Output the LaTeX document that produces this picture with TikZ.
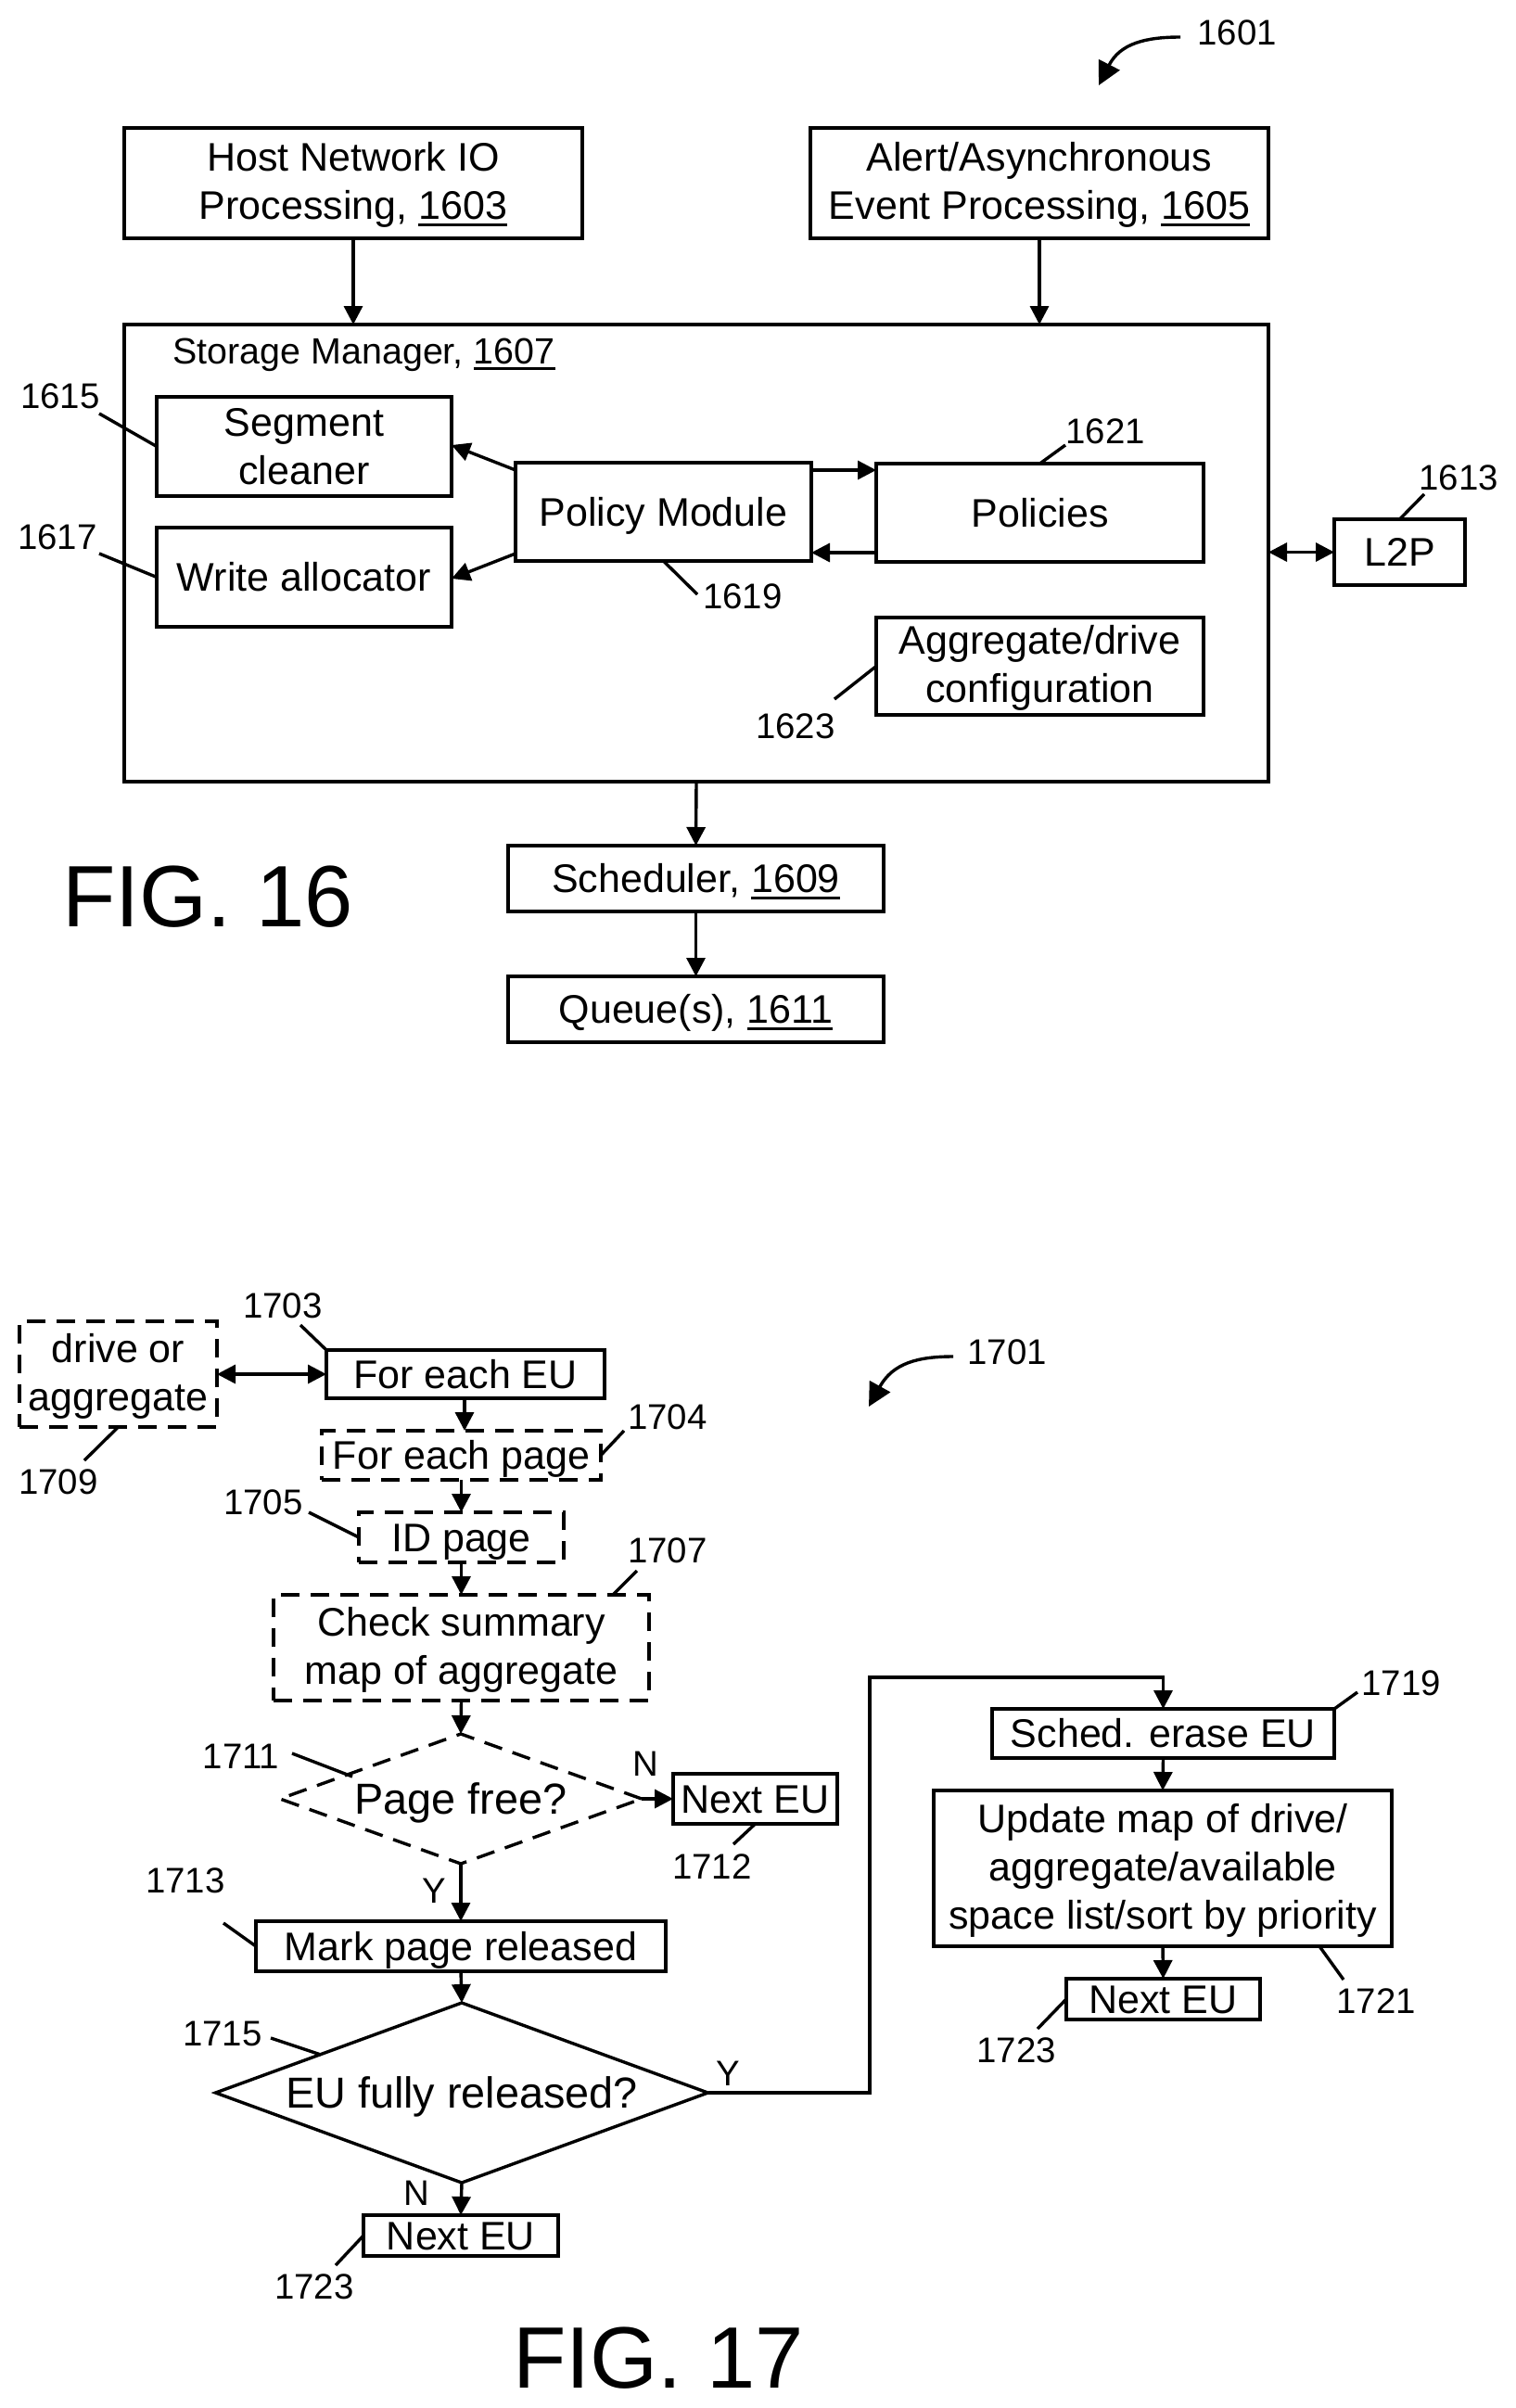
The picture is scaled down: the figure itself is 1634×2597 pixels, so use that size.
\documentclass[tikz,border=0pt]{standalone}
\usepackage{fontspec}
\setmainfont{Liberation Sans}
\usetikzlibrary{arrows.meta,shapes.geometric}
\newcommand\ulnum[1]{\setbox0\hbox{#1}\rlap{\rule[-0.17em]{\wd0}{1.6pt}}#1}
\newcommand\bx[6]{% name, style, x1, y1, x2, y2; the text follows
  \pgfmathsetmacro\cx{(#3+#5)/2}\pgfmathsetmacro\cy{(#4+#6)/2}%
  \pgfmathsetmacro\ww{(#5-#3)*0.5}\pgfmathsetmacro\hh{(#6-#4)*0.5}%
  \node[#2,minimum width=\ww pt,minimum height=\hh pt] (#1) at (\cx,\cy)}
\tikzset{
  x=0.5pt,y=-0.5pt,
  every path/.style={line width=1.7pt},
  base/.style={draw,inner sep=0pt,outer sep=0pt,align=center,font=\fontsize{21.5}{26}\selectfont},
  one/.style={base,text height=15.4pt,text depth=0pt},
  multi/.style={base,text depth=2.5pt},
  dbox/.style={one,dashed},
  dmulti/.style={multi,dashed},
  dashed/.style={dash pattern=on 10pt off 6pt},
  num/.style={inner sep=0pt,font=\fontsize{19.2}{23}\selectfont,text height=13.8pt,text depth=0pt},
  figlabel/.style={inner sep=0pt,font=\fontsize{47}{50}\selectfont,text height=33.7pt,text depth=0pt},
  plain/.style={inner sep=0pt,font=\fontsize{19.7}{23}\selectfont,text height=14.1pt,text depth=0pt},
  decide/.style={base,diamond,shape aspect=2.73,font=\fontsize{23.4}{26}\selectfont,text height=16.8pt,text depth=0pt},
  arr/.style={-{Triangle[length=10pt,width=10pt]}},
  darr/.style={{Triangle[length=10pt,width=10pt]}-{Triangle[length=10pt,width=10pt]}},
  curvearr/.style={-{Triangle[length=12.5pt,width=12.5pt]}},
  leader/.style={line width=1.7pt},
}
\begin{document}
\begin{tikzpicture}
\useasboundingbox (0,0) rectangle (1634,2597);
% FIG. 16
\bx{host}{multi}{134}{138}{628}{257}{Host Network IO\\Processing, \ulnum{1603}};
\bx{alert}{multi}{874}{138}{1368}{257}{Alert/Asynchronous\\Event Processing, \ulnum{1605}};
\bx{sm}{base}{134}{350}{1368}{843}{};
\node[plain,anchor=west] (smt) at (185,378) {Storage Manager, \ulnum{1607}};
\bx{seg}{base}{169}{428}{487}{535}{Segment\\cleaner};
\bx{wa}{one}{169}{569}{487}{676}{Write allocator};
\bx{pm}{one}{556}{499}{875}{605}{Policy Module};
\bx{pol}{one}{945}{500}{1298}{606}{Policies};
\bx{agg}{multi}{945}{666}{1298}{771}{Aggregate/drive\\configuration};
\bx{ltp}{one}{1439}{560}{1580}{631}{L2P};
\bx{sch}{one}{548}{912}{953}{983}{Scheduler, \ulnum{1609}};
\bx{que}{one}{548}{1053}{953}{1124}{Queue(s), \ulnum{1611}};
\node[figlabel] (f16) at (224,966) {FIG. 16};
\node[num] (n1601) at (1334,35) {1601};
\node[num] (n1615) at (65,427) {1615};
\node[num] (n1617) at (62,579) {1617};
\node[num] (n1619) at (801,643) {1619};
\node[num] (n1621) at (1192,465) {1621};
\node[num] (n1623) at (858,783) {1623};
\node[num] (n1613) at (1573,515) {1613};
\draw[arr] (host) -- (host |- sm.north);
\draw[arr] (alert) -- (alert |- sm.north);
\coordinate (smb) at (751,843);
\draw[arr] (smb) -- (sch.north);
\draw[arr] (sch) -- (que);
\coordinate (pa) at (556,507); \coordinate (pb) at (487,480);
\coordinate (pc) at (556,597); \coordinate (pd) at (487,624);
\draw[arr] (pa) -- (pb);
\draw[arr] (pc) -- (pd);
\coordinate (pe) at (875,507); \coordinate (pf) at (945,507);
\coordinate (pg) at (945,596); \coordinate (ph) at (875,596);
\draw[arr] (pe) -- (pf);
\draw[arr] (pg) -- (ph);
\draw[darr] (sm.east |- ltp.west) -- (ltp.west);
\coordinate (c1601a) at (1273,40); \coordinate (c1601b) at (1185,92);
\draw[curvearr] (c1601a) .. controls (1235,40) and (1208,47) .. (c1601b);
\coordinate (l1615) at (107,446); \draw[leader] (l1615) -- (seg.west);
\coordinate (l1617) at (107,597); \draw[leader] (l1617) -- (wa.west);
\coordinate (l1619) at (752,641); \draw[leader] (pm.south) -- (l1619);
\coordinate (l1621) at (1149,480); \draw[leader] (pol.north) -- (l1621);
\coordinate (l1623) at (900,754); \draw[leader] (agg.west) -- (l1623);
\coordinate (l1613) at (1536,533); \draw[leader] (ltp.north) -- (l1613);
% FIG. 17
\bx{drv}{dmulti}{21}{1425}{234}{1539}{drive or\\aggregate};
\bx{fe}{one}{352}{1456}{652}{1508}{For each EU};
\bx{fp}{dbox}{347}{1543}{648}{1596}{For each page};
\bx{idp}{dbox}{387}{1631}{608}{1685}{ID page};
\bx{cs}{dmulti}{295}{1720}{700}{1834}{Check summary\\map of aggregate};
\node[decide,dashed,minimum width=390pt*0.5,minimum height=140pt*0.5] (pfree) at (497,1940) {Page free?};
\bx{ne1}{one}{726}{1913}{903}{1967}{Next EU};
\bx{mp}{one}{276}{2072}{718}{2126}{Mark page released};
\node[decide,minimum width=531pt*0.5,minimum height=194pt*0.5] (eu) at (498,2257) {EU fully released?};
\bx{ne2}{one}{392}{2389}{602}{2433}{Next EU};
\bx{sched}{one}{1070}{1843}{1439}{1896}{Sched. erase EU};
\bx{upd}{multi}{1007}{1931}{1501}{2099}{Update map of drive/\\aggregate/available\\space list/sort by priority};
\bx{ne3}{one}{1150}{2134}{1359}{2178}{Next EU};
\node[figlabel] (f17) at (710,2542) {FIG. 17};
\node[num] (n1701) at (1086,1458) {1701};
\node[num] (n1703) at (305,1408) {1703};
\node[num] (n1704) at (720,1528) {1704};
\node[num] (n1705) at (284,1620) {1705};
\node[num] (n1707) at (720,1672) {1707};
\node[num] (n1709) at (63,1598) {1709};
\node[num] (n1711) at (260,1894) {1711};
\node[num] (n1712) at (768,2013) {1712};
\node[num] (n1713) at (200,2028) {1713};
\node[num] (n1715) at (240,2193) {1715};
\node[num] (n1719) at (1511,1815) {1719};
\node[num] (n1721) at (1484,2158) {1721};
\node[num] (n1723a) at (339,2466) {1723};
\node[num] (n1723b) at (1096,2211) {1723};
\node[num] (ln) at (696,1902) {N};
\node[num] (ly) at (468,2039) {Y};
\node[num] (ly2) at (785,2236) {Y};
\node[num] (ln2) at (449,2365) {N};
\draw[darr] (drv.east |- fe.west) -- (fe.west);
\coordinate (fes) at (501,1508); \coordinate (fpn) at (501,1543);
\draw[arr] (fes) -- (fpn);
\draw[arr] (fp.south -| idp.north) -- (idp.north);
\draw[arr] (idp.south) -- (cs.north);
\draw[arr] (cs.south) -- (pfree.north);
\draw[arr] (pfree.east) -- (ne1.west);
\draw[arr] (pfree.south) -- (mp.north);
\draw[arr] (mp.south) -- (eu.north);
\draw[arr] (eu.south) -- (ne2.north);
\coordinate (corner) at (938,1809);
\draw[arr] (eu.east) -| (corner) -| (sched.north);
\draw[arr] (sched.south) -- (upd.north);
\draw[arr] (upd.south) -- (ne3.north);
\coordinate (c1701a) at (1028,1463); \coordinate (c1701b) at (937,1517);
\draw[curvearr] (c1701a) .. controls (990,1463) and (963,1470) .. (c1701b);
\coordinate (l1703) at (324,1429); \draw[leader] (l1703) -- (fe.north west);
\coordinate (l1704) at (673,1543); \draw[leader] (l1704) -- (fp.east);
\coordinate (l1705) at (333,1631); \draw[leader] (l1705) -- (idp.west);
\coordinate (l1707a) at (687,1694); \coordinate (l1707b) at (661,1720); \draw[leader] (l1707a) -- (l1707b);
\coordinate (l1709) at (91,1575); \draw[leader] (drv.south) -- (l1709);
\coordinate (l1711a) at (315,1891); \coordinate (l1711b) at (380,1916); \draw[leader] (l1711a) -- (l1711b);
\coordinate (l1712) at (791,1989); \draw[leader] (ne1.south) -- (l1712);
\coordinate (l1713) at (241,2074); \draw[leader] (l1713) -- (mp.west);
\coordinate (l1715a) at (292,2198); \coordinate (l1715b) at (346,2216); \draw[leader] (l1715a) -- (l1715b);
\coordinate (l1723a) at (362,2443); \draw[leader] (ne2.west) -- (l1723a);
\coordinate (l1719) at (1464,1825); \draw[leader] (sched.north east) -- (l1719);
\coordinate (l1721a) at (1423,2099); \coordinate (l1721b) at (1449,2135); \draw[leader] (l1721a) -- (l1721b);
\coordinate (l1723b) at (1119,2188); \draw[leader] (ne3.west) -- (l1723b);
\end{tikzpicture}
\end{document}
